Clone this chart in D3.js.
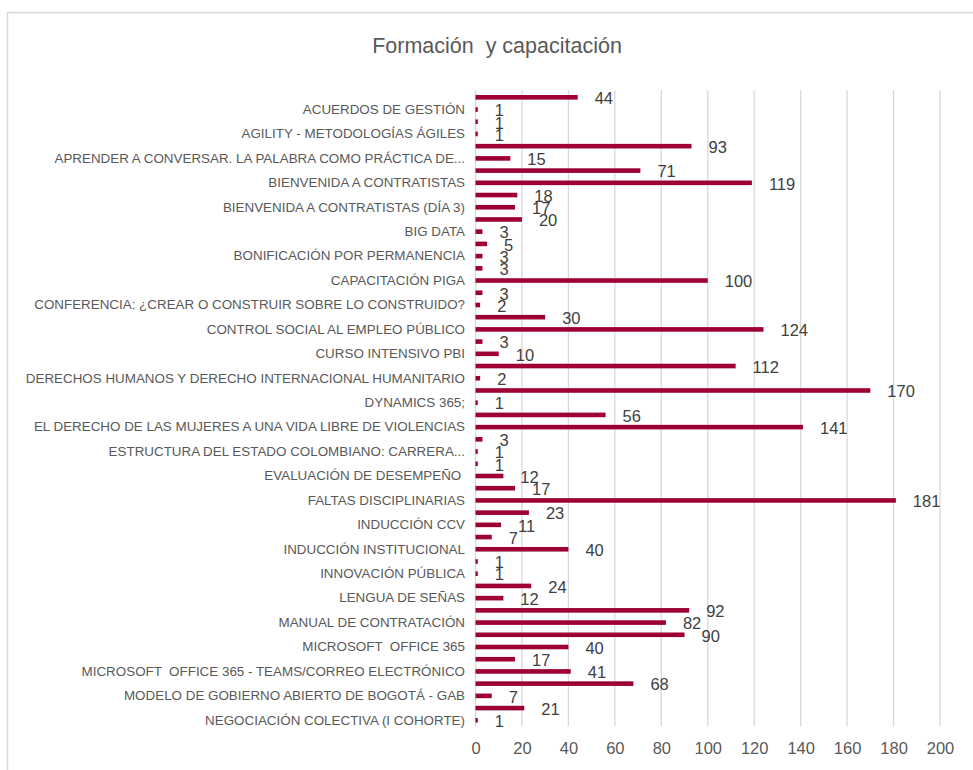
<!DOCTYPE html>
<html>
<head>
<meta charset="utf-8">
<script src="https://cdn.jsdelivr.net/npm/d3@7"></script>
<style>
  body { margin: 0; background: #fff; }
  text { font-family: "Liberation Sans", Arial, sans-serif; white-space: pre; }
</style>
</head>
<body>
<div id="chart"></div>
<script>
// values, top to bottom (52 categories)
var values = [44, 1, 1, 1, 93, 15, 71, 119, 18, 17, 20, 3, 5, 3, 3, 100, 3, 2, 30, 124,
  3, 10, 112, 2, 170, 1, 56, 141, 3, 1, 1, 12, 17, 181, 23, 11, 7, 40, 1, 1,
  24, 12, 92, 82, 90, 40, 17, 41, 68, 7, 21, 1];

// only every second category label is shown in the chart (odd positions)
var tickLabels = [
  "ACUERDOS DE GESTIÓN",
  "AGILITY - METODOLOGÍAS ÁGILES",
  "APRENDER A CONVERSAR. LA PALABRA COMO PRÁCTICA DE...",
  "BIENVENIDA A CONTRATISTAS",
  "BIENVENIDA A CONTRATISTAS (DÍA 3)",
  "BIG DATA",
  "BONIFICACIÓN POR PERMANENCIA",
  "CAPACITACIÓN PIGA",
  "CONFERENCIA: ¿CREAR O CONSTRUIR SOBRE LO CONSTRUIDO?",
  "CONTROL SOCIAL AL EMPLEO PÚBLICO",
  "CURSO INTENSIVO PBI",
  "DERECHOS HUMANOS Y DERECHO INTERNACIONAL HUMANITARIO",
  "DYNAMICS 365;",
  "EL DERECHO DE LAS MUJERES A UNA VIDA LIBRE DE VIOLENCIAS",
  "ESTRUCTURA DEL ESTADO COLOMBIANO: CARRERA...",
  "EVALUACIÓN DE DESEMPEÑO ",
  "FALTAS DISCIPLINARIAS",
  "INDUCCIÓN CCV",
  "INDUCCIÓN INSTITUCIONAL",
  "INNOVACIÓN PÚBLICA",
  "LENGUA DE SEÑAS",
  "MANUAL DE CONTRATACIÓN",
  "MICROSOFT  OFFICE 365",
  "MICROSOFT  OFFICE 365 - TEAMS/CORREO ELECTRÓNICO",
  "MODELO DE GOBIERNO ABIERTO DE BOGOTÁ - GAB",
  "NEGOCIACIÓN COLECTIVA (I COHORTE)"
];
var xTicks = [0, 20, 40, 60, 80, 100, 120, 140, 160, 180, 200];
var title = "Formación  y capacitación";

var W = 973, H = 770;
var svg = d3.select("#chart").append("svg").attr("width", W).attr("height", H);

// outer chart frame (runs off the right/bottom edge like the screenshot)
svg.append("rect").attr("x", 7.5).attr("y", 12.5).attr("width", 1000).attr("height", 800)
  .attr("fill", "none").attr("stroke", "#d9d9d9").attr("stroke-width", 1.5);

svg.append("text").attr("x", 497).attr("y", 53).attr("text-anchor", "middle")
  .attr("font-size", "21.5px").attr("fill", "#595959").text(title);

var x = d3.scaleLinear().domain([0, 200]).range([475.5, 940]);
var y = d3.scaleBand().domain(d3.range(values.length)).range([91.2, 726.4]);

// gridlines
svg.append("g").selectAll("line").data(xTicks).join("line")
  .attr("x1", function (d) { return x(d); }).attr("x2", function (d) { return x(d); })
  .attr("y1", y.range()[0] - 1).attr("y2", y.range()[1])
  .attr("stroke", "#d9d9d9").attr("stroke-width", 1.3);

// x axis labels
var xa = svg.append("g").attr("transform", "translate(0," + 742 + ")")
  .call(d3.axisBottom(x).tickValues(xTicks).tickSize(0).tickPadding(0));
xa.select(".domain").remove();
xa.selectAll("text").attr("font-size", "16.5px").attr("fill", "#595959")
  .attr("font-family", "Liberation Sans, Arial, sans-serif").attr("dy", "0.71em");

// y axis labels, every second category
var ya = svg.append("g").attr("transform", "translate(" + 465 + ",0)")
  .call(d3.axisLeft(y).tickValues(d3.range(1, values.length, 2))
    .tickFormat(function (i) { return tickLabels[(i - 1) / 2]; })
    .tickSize(0).tickPadding(0));
ya.select(".domain").remove();
ya.selectAll("text").attr("font-size", "13.4px").attr("fill", "#595959")
  .attr("font-family", "Liberation Sans, Arial, sans-serif");

var bh = 4.6;
svg.append("g").selectAll("rect").data(values).join("rect")
  .attr("x", x(0))
  .attr("y", function (d, i) { return y(i) + y.bandwidth() / 2 - bh / 2; })
  .attr("width", function (d) { return x(d) - x(0); })
  .attr("height", bh)
  .attr("fill", "#9e0034");

// data labels (the small neighbouring ones overlap in the original too)
svg.append("g").selectAll("text").data(values).join("text")
  .attr("x", function (d) { return x(d) + 17; })
  .attr("y", function (d, i) { return y(i) + y.bandwidth() / 2 + 1; })
  .attr("dy", "0.35em")
  .attr("font-size", "16.5px").attr("fill", "#404040")
  .text(function (d) { return d; });
</script>
</body>
</html>
